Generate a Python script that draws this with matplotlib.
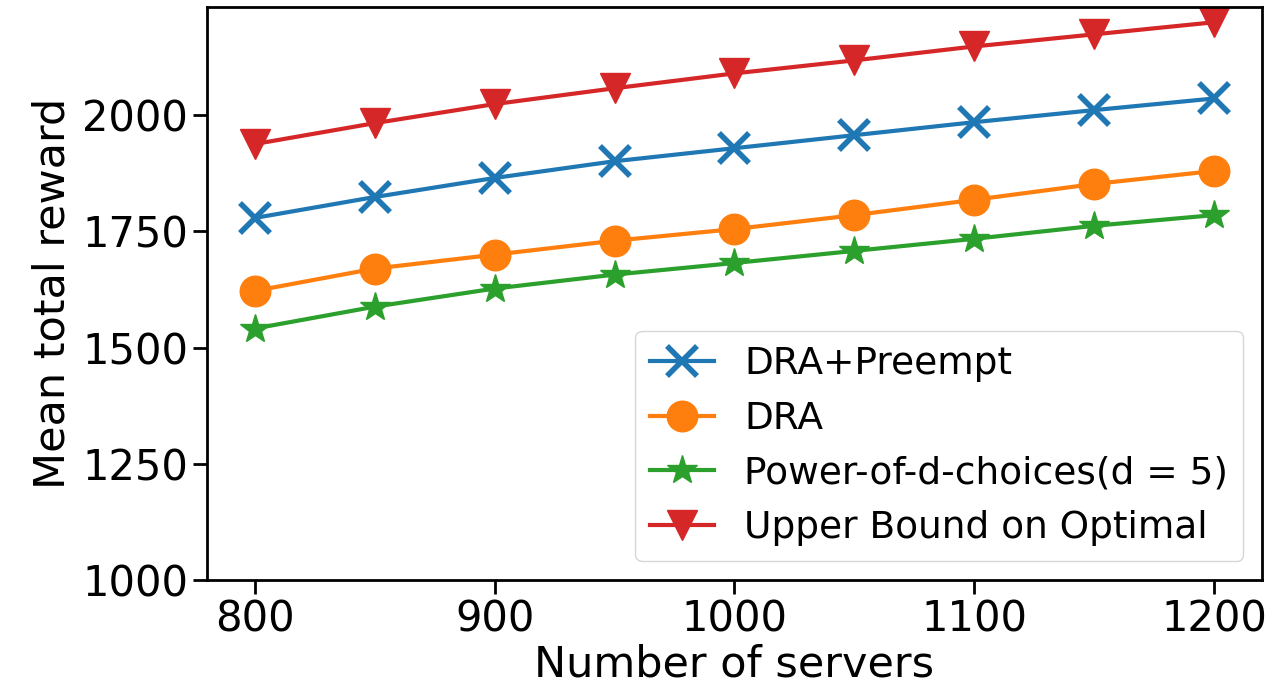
import numpy as np
import matplotlib
matplotlib.use("Agg")
import matplotlib.pyplot as plt

# data
servers = [800, 850, 900, 950, 1000, 1050, 1100, 1150, 1200]
dra_preempt = [1779, 1824, 1865, 1901, 1929, 1957, 1985, 2011, 2036]
dra = [1622, 1670, 1700, 1730, 1755, 1785, 1818, 1852, 1880]
power_d = [1541, 1588, 1627, 1657, 1682, 1708, 1734, 1762, 1785]
upper_bound = [1938, 1983, 2024, 2058, 2090, 2118, 2148, 2174, 2200]

fig = plt.figure(figsize=(12.74, 6.97), dpi=100)
ax = fig.add_axes([0.1625, 0.168, 0.828, 0.822])

ms = 22
lw = 3
ax.plot(servers, dra_preempt, marker='x', markersize=ms, markeredgewidth=4, linewidth=lw,
        color='tab:blue', label='DRA+Preempt')
ax.plot(servers, dra, marker='o', markersize=ms, linewidth=lw,
        color='tab:orange', label='DRA')
ax.plot(servers, power_d, marker='*', markersize=ms, linewidth=lw,
        color='tab:green', label='Power-of-d-choices(d = 5)')
ax.plot(servers, upper_bound, marker='v', markersize=ms, linewidth=lw,
        color='tab:red', label='Upper Bound on Optimal')

ax.set_ylim(bottom=1000)
ax.set_xticks([800, 900, 1000, 1100, 1200])
ax.set_yticks([1000, 1250, 1500, 1750, 2000])
ax.tick_params(labelsize=30, length=10, width=2)
for s in ax.spines.values():
    s.set_linewidth(2)

ax.set_xlabel('Number of servers', fontsize=31, labelpad=2)
ax.set_ylabel('Mean total reward', fontsize=31, labelpad=6)
ax.legend(loc='lower right', fontsize=27, handlelength=1.7, handletextpad=0.8,
          labelspacing=0.5)

fig.savefig('out.png', dpi=100)
